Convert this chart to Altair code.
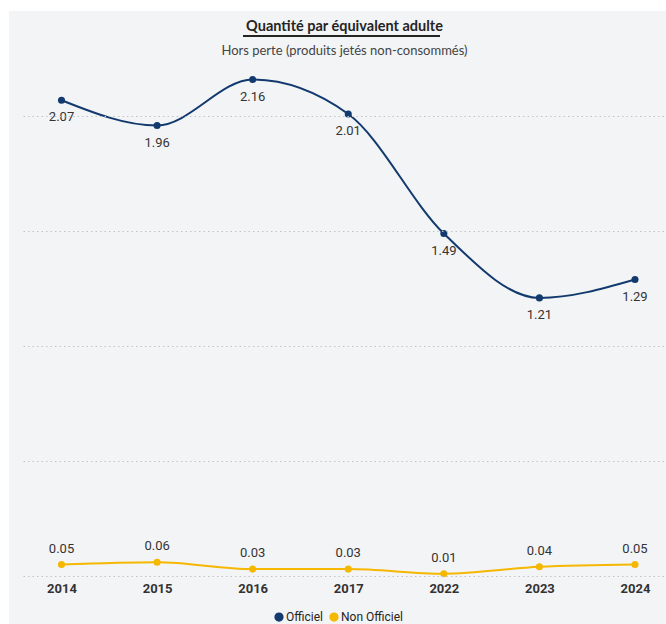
import altair as alt
import pandas as pd

# Categories and series values
annees = ["2014", "2015", "2016", "2017", "2022", "2023", "2024"]
officiel = [2.07, 1.96, 2.16, 2.01, 1.49, 1.21, 1.29]
non_officiel = [0.05, 0.06, 0.03, 0.03, 0.01, 0.04, 0.05]
series = ["Officiel", "Non Officiel"]
couleurs = ["#123a6e", "#f5b700"]

rows = []
for a, v in zip(annees, officiel):
    rows.append({"Année": a, "Série": series[0], "Valeur": v})
for a, v in zip(annees, non_officiel):
    rows.append({"Année": a, "Série": series[1], "Valeur": v})
df = pd.DataFrame(rows)

FONT = "Segoe UI, Lato, sans-serif"
LABEL_FONT = "Roboto, sans-serif"
W, H = 643, 516

x_enc = alt.X("Année:O", sort=annees,
              scale=alt.Scale(type="point", padding=0.3636, align=0.554),
              axis=alt.Axis(title=None, labelAngle=0, domain=False, ticks=False,
                            labelPadding=6, labelFont=LABEL_FONT, labelFontSize=13,
                            labelFontWeight="bold", labelColor="#333333", zindex=1))
y_enc = alt.Y("Valeur:Q",
              scale=alt.Scale(domain=[0, 2.245], nice=False),
              axis=alt.Axis(title=None, labels=False, domain=False, ticks=False,
                            values=[0, 0.5, 1, 1.5, 2], grid=True, zindex=1,
                            gridColor="#c4c4c4", gridDash=[1.5, 3], gridWidth=1))
color_enc = alt.Color("Série:N", sort=series,
                      scale=alt.Scale(domain=series, range=couleurs),
                      legend=alt.Legend(title=None, orient="none", direction="horizontal",
                                        legendX=250, legendY=551, symbolType="circle",
                                        symbolSize=60, labelFont=LABEL_FONT,
                                        labelFontSize=12, labelColor="#252423",
                                        columnPadding=4, labelOffset=1))

base = alt.Chart(df).encode(x=x_enc, y=y_enc, color=color_enc)

# Panel background behind the chart
panel = alt.Chart(df).mark_rect(color="#f3f4f6").encode(
    x=alt.value(-14), x2=alt.value(643), y=alt.value(-49), y2=alt.value(564))

lines = base.mark_line(interpolate="monotone", strokeWidth=2)
points = base.mark_circle(size=50, opacity=1)

lab_off = alt.Chart(df).transform_filter(alt.datum["Série"] == "Officiel").mark_text(
    dy=17, font=LABEL_FONT, fontSize=13, color="#333333").encode(
    x=alt.X("Année:O", sort=annees), y="Valeur:Q",
    text=alt.Text("Valeur:Q", format=".2f"))
lab_non = alt.Chart(df).transform_filter(alt.datum["Série"] == "Non Officiel").mark_text(
    dy=-16, font=LABEL_FONT, fontSize=13, color="#333333").encode(
    x=alt.X("Année:O", sort=annees), y="Valeur:Q",
    text=alt.Text("Valeur:Q", format=".2f"))

# Underline of the title
underline = alt.Chart(df).mark_rule(color="#252423", strokeWidth=1).encode(
    x=alt.value(220), x2=alt.value(417), y=alt.value(-24))

chart = alt.layer(panel, lines, points, lab_off, lab_non, underline).properties(
    width=W, height=H,
    title=alt.TitleParams(
        text="Quantité par équivalent adulte",
        subtitle="Hors perte (produits jetés non-consommés)",
        anchor="middle", font=FONT, fontSize=14.5, fontWeight="bold", color="#252423",
        subtitleFont=FONT, subtitleFontSize=13, subtitleColor="#444444",
        subtitlePadding=11, offset=-48),
    background="white",
    padding={"left": 23, "top": 60, "right": 0, "bottom": 48},
    autosize=alt.AutoSizeParams(type="none"),
).configure_view(stroke=None, fill=None)

chart.save("out.html", embed_options={"renderer": "svg", "actions": False})
